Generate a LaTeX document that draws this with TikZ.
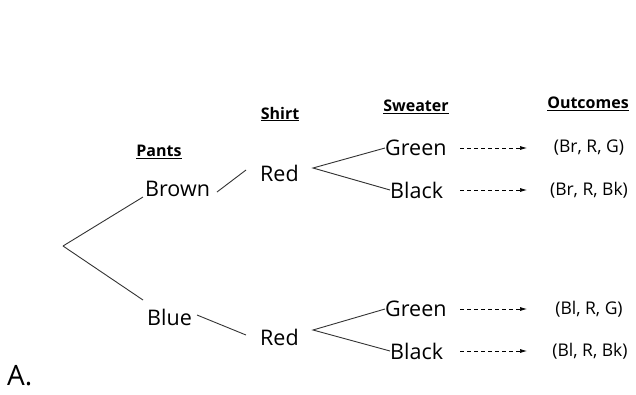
\documentclass[tikz,border=0pt]{standalone}
\usepackage{fontspec}
\setmainfont{Open Sans}
\usetikzlibrary{arrows.meta}
\begin{document}
\begin{tikzpicture}[x=1pt,y=-1pt,
  lbl/.style={inner sep=0pt,font=\fontsize{21.5}{26}\selectfont},
  hdr/.style={inner sep=0pt,font=\fontsize{16}{19}\selectfont\bfseries},
  outc/.style={inner sep=0pt,font=\fontsize{17.5}{21}\selectfont},
  br/.style={draw=black!80,line width=0.9pt},
  dsh/.style={draw=black,dash pattern=on 4pt off 3pt,line width=0.7pt,-{Latex[length=7pt,width=4pt]}}]
\useasboundingbox (0,0) rectangle (636,394);
% headers
\node[hdr] (hp) at (159,152) {\underline{Pants}};
\node[hdr] (hs) at (280,114) {\underline{Shirt}};
\node[hdr] (hw) at (416,107) {\underline{Sweater}};
\node[hdr] (ho) at (588,104) {\underline{Outcomes}};
% labels
\coordinate (root) at (63,246);
\node[lbl,anchor=west] (brown) at (145,189) {Brown};
\node[lbl,anchor=west] (blue) at (147,317) {Blue};
\node[lbl,anchor=west] (red1) at (260,173) {Red};
\node[lbl,anchor=west] (red2) at (260,337) {Red};
\node[lbl,anchor=west] (g1) at (385,148) {Green};
\node[lbl,anchor=west] (b1) at (390,190) {Black};
\node[lbl,anchor=west] (g2) at (385,309) {Green};
\node[lbl,anchor=west] (b2) at (390,351) {Black};
\node[outc] (o1) at (589,148) {(Br, R, G)};
\node[outc] (o2) at (589,190) {(Br, R, Bk)};
\node[outc] (o3) at (589,309) {(Bl, R, G)};
\node[outc] (o4) at (590,351) {(Bl, R, Bk)};
\node[inner sep=0pt,anchor=west,font=\fontsize{28}{32}\selectfont] (a) at (7,376) {A.};
% branches
\coordinate (e1) at (143,197);
\coordinate (e2) at (143,300);
\draw[br] (root) -- (e1);
\draw[br] (root) -- (e2);
\coordinate (p1) at (217,192); \coordinate (q1) at (246,170);
\draw[br] (p1) -- (q1);
\coordinate (p2) at (197,315); \coordinate (q2) at (246,335);
\draw[br] (p2) -- (q2);
\coordinate (f1) at (313,168);
\draw[br] (g1.west) -- (f1) -- (b1.west);
\coordinate (f2) at (313,330);
\draw[br] (g2.west) -- (f2) -- (b2.west);
% dashed arrows
\foreach \s/\t in {g1/o1,b1/o2,g2/o3,b2/o4}{
  \draw[dsh] (460,0 |- \s.west) -- (527,0 |- \s.west);
}
\end{tikzpicture}
\end{document}
